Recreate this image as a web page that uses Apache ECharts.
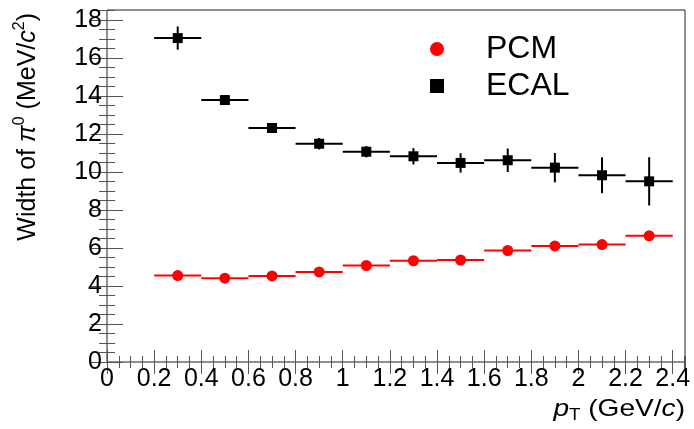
<!DOCTYPE html>
<html>
<head>
<meta charset="utf-8">
<script src="https://cdn.jsdelivr.net/npm/echarts@6/dist/echarts.min.js"></script>
<style>
  html, body { margin: 0; padding: 0; background: #fff; }
  #main { width: 694px; height: 429px; }
</style>
</head>
<body>
<div id="main"></div>
<script>
const FONT = 'Liberation Sans'

// pT bin centres (GeV/c), half bin width is the x error
const ptBins = [0.3, 0.5, 0.7, 0.9, 1.1, 1.3, 1.5, 1.7, 1.9, 2.1, 2.3]
const ptHalfWidth = [0.1, 0.1, 0.1, 0.1, 0.1, 0.1, 0.1, 0.1, 0.1, 0.1, 0.1]

// width of pi0 peak (MeV/c^2)
const pcmWidth = [4.55, 4.41, 4.53, 4.74, 5.08, 5.33, 5.37, 5.87, 6.11, 6.18, 6.64]
const pcmErr = [0.08, 0.07, 0.07, 0.08, 0.09, 0.09, 0.1, 0.11, 0.12, 0.13, 0.14]
const ecalWidth = [17.05, 13.79, 12.32, 11.49, 11.07, 10.83, 10.48, 10.62, 10.23, 9.83, 9.51]
const ecalErr = [0.61, 0.25, 0.25, 0.3, 0.3, 0.43, 0.51, 0.62, 0.77, 0.94, 1.27]

const xRange = [0, 2.452]
const yRange = [0, 18.53]

const chart = echarts.init(document.getElementById('main'))

// rows: [x, y, yErr, xErr]
const rows = (ys, errs) => ptBins.map((x, i) => [x, ys[i], errs[i], ptHalfWidth[i]])

const errorBars = (color) => (params, api) => {
  const x = api.value(0)
  const y = api.value(1)
  const ey = api.value(2)
  const ex = api.value(3)
  const l = api.coord([x - ex, y])
  const r = api.coord([x + ex, y])
  const t = api.coord([x, y + ey])
  const b = api.coord([x, y - ey])
  const style = { stroke: color, lineWidth: 2 }
  return {
    type: 'group',
    children: [
      { type: 'line', shape: { x1: l[0], y1: l[1], x2: r[0], y2: r[1] }, style },
      { type: 'line', shape: { x1: t[0], y1: t[1], x2: b[0], y2: b[1] }, style }
    ]
  }
}

const isMultiple = (v, step) => Math.abs(v / step - Math.round(v / step)) < 1e-6

// one axis for the long ticks, one for the short ones, on each side
const xAxisDef = (position, step, len, labels) => ({
  type: 'value',
  position,
  min: xRange[0],
  max: xRange[1],
  interval: step,
  axisLine: { show: false },
  splitLine: { show: false },
  axisTick: { inside: true, length: len, lineStyle: { color: '#555' } },
  axisLabel: labels
    ? {
        show: true,
        fontFamily: FONT,
        fontSize: 25,
        color: '#000',
        margin: 5,
        showMaxLabel: false,
        formatter: (v) => (isMultiple(v, 0.2) ? String(+v.toFixed(1)) : '')
      }
    : { show: false }
})

const yAxisDef = (position, step, len, labels) => ({
  type: 'value',
  position,
  min: yRange[0],
  max: yRange[1],
  interval: step,
  axisLine: { show: false },
  splitLine: { show: false },
  axisTick: { inside: true, length: len, lineStyle: { color: '#555' } },
  axisLabel: labels
    ? {
        show: true,
        fontFamily: FONT,
        fontSize: 25,
        color: '#000',
        margin: 5,
        showMaxLabel: false,
        formatter: (v) => (isMultiple(v, 2) ? String(Math.round(v)) : '')
      }
    : { show: false }
})

const option = {
  animation: false,
  textStyle: { fontFamily: FONT },
  grid: {
    left: 107,
    top: 10,
    right: 9,
    bottom: 67,
    show: true,
    borderColor: '#222',
    borderWidth: 1
  },
  xAxis: [
    xAxisDef('bottom', 0.2, 12, true),
    xAxisDef('bottom', 0.05, 6, false),
    xAxisDef('top', 0.2, 12, false),
    xAxisDef('top', 0.05, 6, false)
  ],
  yAxis: [
    yAxisDef('left', 2, 16, true),
    yAxisDef('left', 0.5, 8, false),
    yAxisDef('right', 2, 16, false),
    yAxisDef('right', 0.5, 8, false)
  ],
  legend: {
    orient: 'vertical',
    left: 430,
    top: 33,
    padding: 0,
    itemWidth: 14,
    itemHeight: 14,
    itemGap: 5,
    selectedMode: false,
    textStyle: {
      fontFamily: FONT,
      fontSize: 32,
      lineHeight: 31,
      color: '#000',
      padding: [0, 0, 0, 37]
    },
    data: [
      { name: 'PCM', icon: 'circle' },
      { name: 'ECAL', icon: 'rect' }
    ]
  },
  series: [
    {
      type: 'custom',
      name: 'PCM err',
      renderItem: errorBars('#ff0000'),
      encode: { x: 0, y: 1 },
      data: rows(pcmWidth, pcmErr),
      z: 2
    },
    {
      type: 'custom',
      name: 'ECAL err',
      renderItem: errorBars('#000000'),
      encode: { x: 0, y: 1 },
      data: rows(ecalWidth, ecalErr),
      z: 2
    },
    {
      type: 'scatter',
      name: 'PCM',
      symbol: 'circle',
      symbolSize: 11,
      itemStyle: { color: '#ff0000', opacity: 1 },
      data: ptBins.map((x, i) => [x, pcmWidth[i]]),
      z: 3
    },
    {
      type: 'scatter',
      name: 'ECAL',
      symbol: 'rect',
      symbolSize: 10,
      itemStyle: { color: '#000000', opacity: 1 },
      data: ptBins.map((x, i) => [x, ecalWidth[i]]),
      z: 3
    }
  ],
  graphic: [
    {
      type: 'text',
      x: 28,
      y: 13,
      rotation: Math.PI / 2,
      style: {
        text: 'Width of {i|π}{s|0} (MeV/{i|c}{s|2})',
        fontFamily: FONT,
        fontSize: 25,
        fill: '#000',
        align: 'right',
        verticalAlign: 'middle',
        rich: {
          i: { fontFamily: FONT, fontSize: 25, fontStyle: 'italic' },
          s: { fontFamily: FONT, fontSize: 16, padding: [0, 0, 16, 0] }
        }
      }
    },
    {
      type: 'text',
      x: 685,
      y: 409,
      scaleX: 1.17,
      style: {
        text: '{i|p}{sub|T} (GeV/{i|c})',
        fontFamily: FONT,
        fontSize: 24,
        fill: '#000',
        align: 'right',
        verticalAlign: 'middle',
        rich: {
          i: { fontFamily: FONT, fontSize: 24, fontStyle: 'italic' },
          sub: { fontFamily: FONT, fontSize: 16, padding: [14, 0, 0, 0] }
        }
      }
    }
  ]
}

chart.setOption(option)
</script>
</body>
</html>
